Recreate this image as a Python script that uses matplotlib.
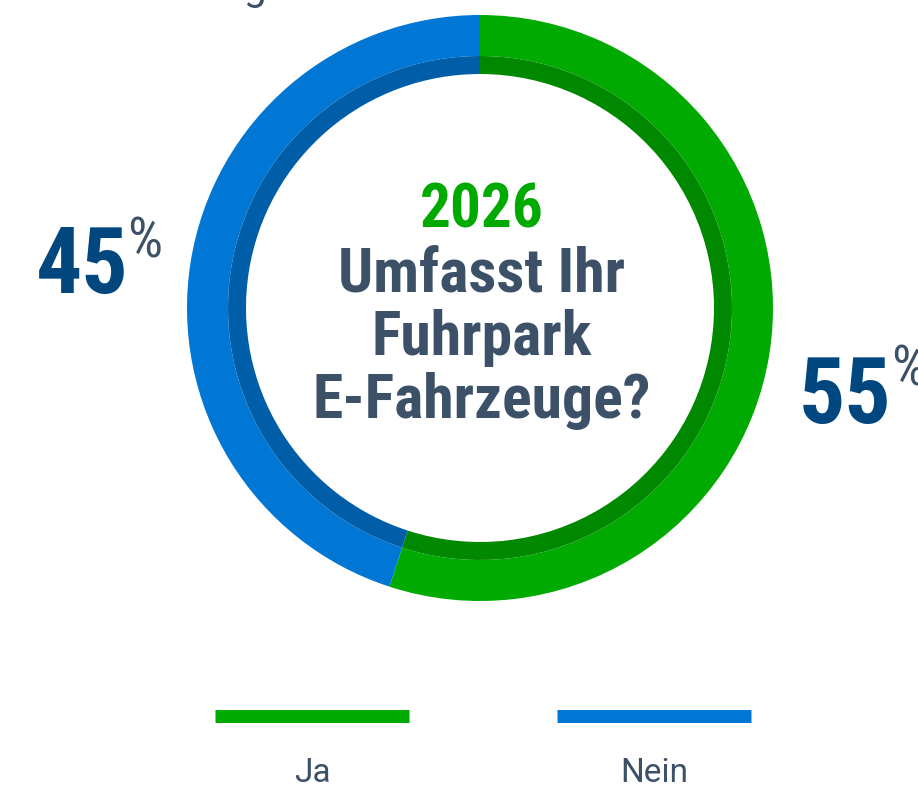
import matplotlib
matplotlib.use('Agg')
import matplotlib.pyplot as plt

# Data
labels = ['Ja', 'Nein']
shares = [55, 45]
year = '2026'
question = ['Umfasst Ihr', 'Fuhrpark', 'E-Fahrzeuge?']

colors = ['#00aa00', '#0077d4']
inner_colors = ['#008800', '#005ea8']
text_col = '#3c5068'
num_col = '#00467f'

W, H = 918, 787
fig = plt.figure(figsize=(W / 100, H / 100), dpi=100)
ax = fig.add_axes([0, 0, 1, 1])


def Y(y):
    # pixel row -> data y
    return H - y


cx, cy = 480, Y(308)

# outer ring
ax.pie(shares, colors=colors, startangle=90, counterclock=False,
       radius=293, center=(cx, cy),
       wedgeprops=dict(width=41, edgecolor='none'))
# darker inner band
ax.pie(shares, colors=inner_colors, startangle=90, counterclock=False,
       radius=252, center=(cx, cy),
       wedgeprops=dict(width=18, edgecolor='none'))

ax.set_xlim(0, W)
ax.set_ylim(0, H)
ax.set_aspect('equal')
ax.axis('off')

cond = 'Roboto Condensed'

# centre text
ax.text(482, Y(227), year, ha='center', va='baseline', color=colors[0],
        family=cond, weight='bold', fontsize=44)
for line, base in zip(question, [292, 355, 418]):
    ax.text(482, Y(base), line, ha='center', va='baseline', color=text_col,
            family=cond, weight='bold', fontsize=44.5)

# percentage labels
ax.text(36, Y(293), f'{shares[1]}', ha='left', va='baseline', color=num_col,
        family=cond, weight='bold', fontsize=66)
ax.text(127, Y(258), '%', ha='left', va='baseline', color=text_col,
        family=cond, fontsize=40)
ax.text(799, Y(423), f'{shares[0]}', ha='left', va='baseline', color=num_col,
        family=cond, weight='bold', fontsize=66)
ax.text(891, Y(386), '%', ha='left', va='baseline', color=text_col,
        family=cond, fontsize=40)

# cut-off title at the very top
ax.text(254, Y(0), 'g', ha='center', va='baseline', color=text_col,
        family='Roboto', fontsize=29)

# legend
for i, (lab, col) in enumerate(zip(labels, colors)):
    x0 = 215 + i * 342
    ax.plot([x0, x0 + 194], [Y(715.5), Y(715.5)], color=col, lw=13 * 0.72,
            solid_capstyle='butt')
    ax.text(x0 + 97, Y(782), lab, ha='center', va='baseline', color=text_col,
            family='Roboto', fontsize=24)

fig.savefig('out.png', dpi=100)
